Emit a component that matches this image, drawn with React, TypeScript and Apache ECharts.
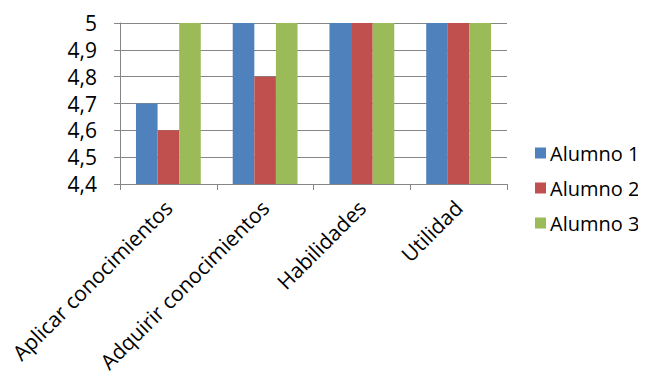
import React, { useEffect, useRef } from "react";
import * as echarts from "echarts";

const categories = ["Aplicar conocimientos", "Adquirir conocimientos", "Habilidades", "Utilidad"];
const seriesNames = ["Alumno 1", "Alumno 2", "Alumno 3"];
const alumno1 = [4.7, 5, 5, 5];
const alumno2 = [4.6, 4.8, 5, 5];
const alumno3 = [5, 5, 5, 5];
const colors = ["#4F81BD", "#C0504D", "#9BBB59"];

const FONT = "'Open Sans', Lato, sans-serif";

export default function App() {
  const ref = useRef<HTMLDivElement>(null);
  useEffect(() => {
    if (!ref.current) return;
    const chart = echarts.init(ref.current, null, { renderer: "svg" });
    const data = [alumno1, alumno2, alumno3];
    chart.setOption({
      animation: false,
      grid: { left: 120, right: 139, top: 23, bottom: 198, containLabel: false },
      legend: {
        orient: "vertical",
        left: 535,
        top: 143,
        padding: 0,
        itemWidth: 11,
        itemHeight: 11,
        itemGap: 15,
        icon: "rect",
        textStyle: { fontFamily: FONT, fontSize: 20, color: "#000", padding: [0, 0, 0, -1] },
        data: seriesNames,
      },
      xAxis: {
        type: "category",
        data: categories,
        axisLine: { lineStyle: { color: "#868686" } },
        axisTick: { show: true, alignWithLabel: false, length: 6, lineStyle: { color: "#868686" } },
        axisLabel: {
          rotate: 45,
          interval: 0,
          fontFamily: FONT,
          fontSize: 21,
          color: "#000",
          margin: 20,
        },
      },
      yAxis: {
        type: "value",
        min: 4.4,
        max: 5,
        interval: 0.1,
        axisLine: { show: true, lineStyle: { color: "#868686" } },
        axisTick: { show: true, length: 6, lineStyle: { color: "#868686" } },
        splitLine: { lineStyle: { color: "#868686" } },
        axisLabel: {
          fontFamily: FONT,
          fontSize: 21,
          color: "#000",
          margin: 23,
          formatter: (v: number) => {
            const r = Math.round(v * 10) / 10;
            return String(r).replace(".", ",");
          },
        },
      },
      series: seriesNames.map((name, i) => ({
        name,
        type: "bar",
        data: data[i],
        barGap: "0%",
        barCategoryGap: "33%",
        itemStyle: { color: colors[i] },
      })),
    });
    return () => chart.dispose();
  }, []);
  return <div ref={ref} style={{ width: 646, height: 382, margin: -8 }} />;
}
